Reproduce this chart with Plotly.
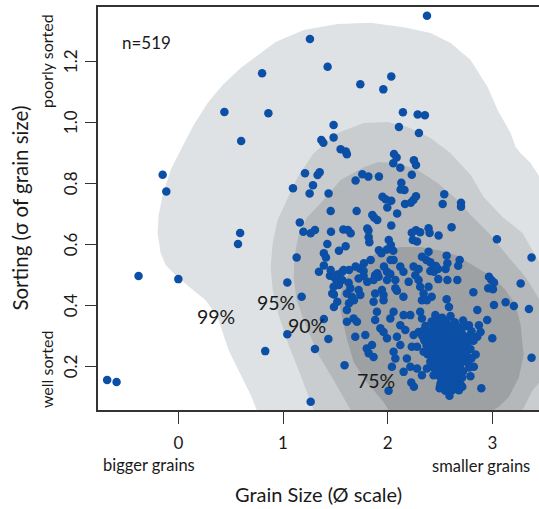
import plotly.graph_objects as go

# ---------------- data ----------------
# density contour outlines (highest-density regions), in data units (Ø, σ)
c99_x = [0.79, 0.748, 0.691, 0.595, 0.480, 0.375, 0.261, 0.117, -0.026, -0.121, -0.169, -0.198, -0.188,
         -0.150, -0.074, 0.022, 0.146, 0.280, 0.423, 0.595, 0.767, 0.929, 1.197, 1.521, 1.836, 2.152,
         2.410, 2.601, 2.792, 2.954, 3.050, 3.174, 3.222, 3.270, 3.365, 3.451, 3.65, 3.65]
c99_y = [-0.10, 0.056, 0.105, 0.170, 0.252, 0.361, 0.416, 0.456, 0.498, 0.531, 0.570, 0.636, 0.695,
         0.761, 0.843, 0.908, 0.990, 1.062, 1.121, 1.177, 1.220, 1.262, 1.302, 1.321, 1.325, 1.311,
         1.292, 1.259, 1.203, 1.115, 1.039, 0.964, 0.918, 0.898, 0.866, 0.820, 0.744, -0.10]

c95_x = [1.33, 1.292, 1.168, 1.054, 0.958, 0.901, 0.882, 0.901, 0.948, 1.025, 1.140, 1.292, 1.521,
         1.770, 1.999, 2.190, 2.410, 2.601, 2.792, 2.916, 3.097, 3.288, 3.384, 3.451, 3.65, 3.65]
c95_y = [-0.10, 0.056, 0.170, 0.269, 0.367, 0.449, 0.525, 0.603, 0.679, 0.734, 0.820, 0.898, 0.964,
         0.997, 1.000, 0.984, 0.948, 0.898, 0.826, 0.754, 0.689, 0.636, 0.580, 0.538, 0.449, -0.10]

c90_x = [1.70, 1.645, 1.483, 1.340, 1.216, 1.130, 1.101, 1.111, 1.149, 1.225, 1.359, 1.550, 1.770,
         1.913, 2.095, 2.286, 2.477, 2.667, 2.792, 2.964, 3.155, 3.317, 3.413, 3.451, 3.60, 3.58,
         3.451, 3.384, 3.288, 3.25]
c90_y = [-0.10, 0.056, 0.154, 0.236, 0.334, 0.416, 0.492, 0.564, 0.630, 0.685, 0.734, 0.810, 0.852,
         0.869, 0.866, 0.843, 0.800, 0.744, 0.695, 0.636, 0.557, 0.492, 0.439, 0.416, 0.318, 0.187,
         0.148, 0.121, 0.056, -0.10]

c75_x = [2.05, 2.008, 1.960, 1.798, 1.674, 1.607, 1.569, 1.540, 1.550, 1.607, 1.741, 1.894, 2.123,
         2.314, 2.486, 2.649, 2.840, 3.002, 3.126, 3.222, 3.270, 3.298, 3.251, 3.155, 3.059, 3.011, 2.98]
c75_y = [-0.10, 0.056, 0.082, 0.148, 0.213, 0.292, 0.351, 0.400, 0.439, 0.492, 0.538, 0.570, 0.590,
         0.590, 0.580, 0.564, 0.525, 0.492, 0.449, 0.400, 0.334, 0.236, 0.161, 0.098, 0.066, 0.056, -0.10]

contour_levels = ["99%", "95%", "90%", "75%"]
contour_label_x = [0.356, 0.929, 1.225, 1.884]
contour_label_y = [0.361, 0.410, 0.334, 0.154]

# samples: (grain size Ø, sorting σ)
outer_pts = [(-0.68, 0.154), (-0.59, 0.148), (-0.38, 0.495), (0.00, 0.485), (0.83, 0.249),
             (-0.15, 0.827), (-0.115, 0.772), (0.44, 1.033), (0.80, 1.16), (0.86, 1.029),
             (0.60, 0.938), (0.59, 0.636), (0.57, 0.60), (2.375, 1.348), (1.257, 1.272),
             (1.426, 1.181), (1.738, 1.124), (2.034, 1.149), (1.958, 1.107), (2.145, 1.032),
             (2.286, 1.025), (2.355, 1.022), (2.107, 0.984), (2.298, 0.964), (1.264, 0.083),
             (3.043, 0.616), (3.374, 0.556), (3.374, 0.227), (1.041, 0.474), (1.041, 0.304),
             (1.13, 0.556)]

upper_pts = [(1.483, 0.990), (1.483, 0.949), (1.366, 0.941), (1.385, 0.932), (1.55, 0.911),
             (1.60, 0.903), (1.61, 0.894), (2.06, 0.895), (2.085, 0.884), (2.053, 0.865),
             (2.12, 0.850), (2.25, 0.875), (2.27, 0.859), (2.23, 0.827), (1.21, 0.832),
             (1.33, 0.826), (1.35, 0.835), (1.286, 0.793), (1.254, 0.766), (1.095, 0.783),
             (1.435, 0.766), (1.757, 0.829), (1.815, 0.821), (1.693, 0.808), (1.916, 0.821),
             (2.13, 0.801), (2.123, 0.779), (2.16, 0.777), (1.95, 0.755), (1.98, 0.747),
             (2.034, 0.742), (1.996, 0.72), (2.27, 0.757), (2.245, 0.744), (2.22, 0.735),
             (2.165, 0.731), (2.09, 0.70), (2.54, 0.763), (2.525, 0.731), (2.70, 0.735),
             (2.70, 0.722), (1.455, 0.708), (1.703, 0.708), (1.853, 0.695), (1.87, 0.687),
             (1.90, 0.679)]

mid_pts = [(1.16, 0.671), (1.194, 0.640), (1.264, 0.635), (1.305, 0.646), (1.458, 0.640),
           (1.576, 0.648), (1.62, 0.646), (1.646, 0.635), (1.805, 0.651), (1.816, 0.644),
           (2.034, 0.661), (1.818, 0.622), (1.824, 0.606), (1.423, 0.60), (1.534, 0.578),
           (1.598, 0.593), (1.39, 0.57), (1.41, 0.556), (2.01, 0.613), (2.03, 0.597),
           (1.993, 0.582), (2.053, 0.578), (2.23, 0.637), (2.27, 0.645), (2.31, 0.639),
           (2.39, 0.652), (2.40, 0.636), (2.24, 0.613), (2.28, 0.608), (2.486, 0.628),
           (2.61, 0.655), (1.916, 0.58), (1.94, 0.57), (2.39, 0.575), (2.327, 0.558),
           (2.37, 0.548), (2.563, 0.562), (2.687, 0.548), (2.673, 0.529), (2.57, 0.537),
           (2.056, 0.548), (1.837, 0.548), (1.773, 0.537), (2.028, 0.548)]

midlow_pts = [(1.39, 0.53), (1.343, 0.509), (1.448, 0.496), (1.455, 0.515), (1.52, 0.50),
              (1.566, 0.509), (1.486, 0.493), (1.486, 0.435), (1.178, 0.427), (1.579, 0.515),
              (1.63, 0.515), (1.693, 0.526), (1.732, 0.52), (1.77, 0.512), (1.722, 0.487),
              (1.77, 0.495), (1.805, 0.476), (1.88, 0.498), (1.913, 0.493), (1.865, 0.482),
              (1.9, 0.504), (1.964, 0.526), (1.993, 0.509), (2.025, 0.502), (1.993, 0.482),
              (2.12, 0.526), (2.15, 0.509), (2.073, 0.482), (1.50, 0.487), (1.515, 0.476),
              (1.483, 0.46), (1.534, 0.466), (1.566, 0.482), (1.47, 0.438), (1.627, 0.473),
              (1.643, 0.455), (1.61, 0.438), (1.658, 0.427), (1.677, 0.416), (1.63, 0.406),
              (1.722, 0.449), (1.738, 0.433), (1.88, 0.438), (1.96, 0.433), (1.945, 0.449),
              (1.96, 0.416), (1.865, 0.411), (2.073, 0.455), (2.088, 0.447), (2.15, 0.427),
              (2.2, 0.476), (2.247, 0.526), (2.295, 0.518), (2.264, 0.498), (2.295, 0.482),
              (2.31, 0.46), (2.343, 0.438), (2.39, 0.46), (2.42, 0.427), (2.327, 0.416),
              (2.374, 0.416), (2.407, 0.54), (2.44, 0.526), (2.407, 0.512), (2.44, 0.509),
              (2.553, 0.518), (2.48, 0.518), (2.46, 0.528), (2.483, 0.485), (2.57, 0.482),
              (2.665, 0.482), (2.967, 0.493), (2.99, 0.482), (3.015, 0.474), (2.96, 0.455),
              (3.005, 0.452), (2.818, 0.442), (3.27, 0.471), (2.563, 0.419), (3.015, 0.40),
              (3.126, 0.409), (3.205, 0.397)]

low_pts = [(1.39, 0.354), (1.433, 0.289), (1.305, 0.256), (1.486, 0.394), (1.518, 0.411),
           (1.588, 0.203), (2.008, 0.119), (2.225, 0.146), (2.25, 0.132),
           (1.61, 0.384), (1.61, 0.345), (1.674, 0.356), (1.706, 0.345), (1.69, 0.296),
           (1.786, 0.302), (1.80, 0.258), (1.85, 0.269), (1.818, 0.242), (1.865, 0.23),
           (1.897, 0.378), (1.88, 0.351), (1.93, 0.324), (1.96, 0.312), (1.993, 0.291),
           (2.025, 0.356), (2.056, 0.378), (2.12, 0.334), (2.152, 0.367), (2.216, 0.367),
           (2.31, 0.378), (2.327, 0.356), (2.168, 0.318), (2.247, 0.302), (2.295, 0.312),
           (2.28, 0.263), (2.23, 0.263), (2.12, 0.269), (2.056, 0.247), (2.073, 0.225),
           (2.183, 0.225), (2.216, 0.198), (2.28, 0.192), (2.374, 0.192), (2.407, 0.214),
           (2.343, 0.247), (2.407, 0.269), (2.438, 0.334), (2.455, 0.367), (2.088, 0.296),
           (2.04, 0.198), (2.152, 0.181), (2.327, 0.17), (2.438, 0.17),
           (2.585, 0.394), (2.856, 0.384), (3.349, 0.387), (2.776, 0.334), (2.871, 0.334),
           (2.95, 0.351), (2.999, 0.291), (2.79, 0.291), (2.856, 0.296), (2.887, 0.312),
           (2.823, 0.198), (2.79, 0.167), (2.696, 0.138), (2.68, 0.121), (2.59, 0.103),
           (2.894, 0.127), (2.505, 0.143), (2.496, 0.127), (2.712, 0.132), (2.648, 0.143)]

blob_pts = [(2.46, 0.362), (2.52, 0.358), (2.60, 0.364),
            (2.42, 0.346), (2.50, 0.343), (2.56, 0.348), (2.64, 0.344), (2.72, 0.349),
            (2.36, 0.331), (2.44, 0.328), (2.49, 0.333), (2.55, 0.329), (2.61, 0.332), (2.68, 0.327), (2.75, 0.331),
            (2.34, 0.316), (2.40, 0.313), (2.47, 0.317), (2.53, 0.314), (2.58, 0.318), (2.64, 0.312), (2.70, 0.316), (2.80, 0.314),
            (2.33, 0.299), (2.38, 0.302), (2.45, 0.298), (2.50, 0.301), (2.55, 0.297), (2.60, 0.303), (2.66, 0.299), (2.72, 0.302), (2.78, 0.298),
            (2.35, 0.284), (2.41, 0.287), (2.47, 0.283), (2.52, 0.286), (2.57, 0.282), (2.63, 0.288), (2.68, 0.284), (2.74, 0.286), (2.82, 0.283),
            (2.37, 0.269), (2.43, 0.272), (2.48, 0.268), (2.54, 0.271), (2.59, 0.267), (2.64, 0.273), (2.70, 0.269), (2.76, 0.271),
            (2.40, 0.254), (2.45, 0.257), (2.51, 0.253), (2.56, 0.256), (2.61, 0.252), (2.67, 0.258), (2.72, 0.254), (2.79, 0.256),
            (2.38, 0.239), (2.44, 0.242), (2.49, 0.238), (2.54, 0.241), (2.59, 0.237), (2.64, 0.243), (2.70, 0.239), (2.75, 0.241), (2.84, 0.238),
            (2.42, 0.224), (2.47, 0.227), (2.52, 0.223), (2.57, 0.226), (2.62, 0.222), (2.68, 0.228), (2.73, 0.224), (2.80, 0.226),
            (2.45, 0.209), (2.50, 0.212), (2.55, 0.208), (2.60, 0.211), (2.65, 0.207), (2.71, 0.213), (2.77, 0.209),
            (2.44, 0.194), (2.49, 0.197), (2.54, 0.193), (2.59, 0.196), (2.64, 0.192), (2.69, 0.198), (2.78, 0.195),
            (2.47, 0.179), (2.52, 0.182), (2.57, 0.178), (2.62, 0.181), (2.67, 0.177), (2.72, 0.183),
            (2.50, 0.164), (2.55, 0.167), (2.60, 0.163), (2.65, 0.166), (2.71, 0.162),
            (2.52, 0.149), (2.58, 0.152), (2.63, 0.148), (2.68, 0.151),
            (2.50, 0.134), (2.56, 0.137), (2.62, 0.133), (2.70, 0.136),
            (2.55, 0.119), (2.62, 0.122)]

x_ticks = [0, 1, 2, 3]
y_ticks = [0.2, 0.4, 0.6, 0.8, 1.0, 1.2]
y_tick_text = ["0.2", "0.4", "0.6", "0.8", "1.0", "1.2"]
n_label = "n=519"
x_title = "Grain Size (Ø scale)"
y_title = "Sorting (σ of grain size)"

# ---------------- figure ----------------
FONT = "Lato, 'Open Sans', sans-serif"
TXT = "#1a1a1a"
fill_colors = ["#dfe2e4", "#c9cdd0", "#b4b8bb", "#9da1a4"]
contours = [(c99_x, c99_y), (c95_x, c95_y), (c90_x, c90_y), (c75_x, c75_y)]

fig = go.Figure()
for (cx, cy), col in zip(contours, fill_colors):
    fig.add_trace(go.Scatter(x=cx, y=cy, mode="lines", fill="toself", fillcolor=col,
                             line=dict(width=0, color=col), hoverinfo="skip", showlegend=False))

all_pts = outer_pts + upper_pts + mid_pts + midlow_pts + low_pts + blob_pts
px = [p[0] for p in all_pts]
py = [p[1] for p in all_pts]
fig.add_trace(go.Scatter(x=px, y=py, mode="markers",
                         marker=dict(color="#0c4fa6", size=8.5, line=dict(width=0)),
                         showlegend=False))


def note(text, x, y, xref, yref, size, angle=0, xanchor="center"):
    return dict(x=x, y=y, xref=xref, yref=yref, text=text, showarrow=False,
                textangle=angle, xanchor=xanchor, yanchor="middle",
                font=dict(size=size, color=TXT, family=FONT))


annotations = []
for lab, lx, ly in zip(contour_levels, contour_label_x, contour_label_y):
    annotations.append(note(lab, lx, ly, "x", "y", 19.5))
# rotated y tick labels (R style)
for tv, tt in zip(y_ticks, y_tick_text):
    annotations.append(note(tt, -0.063, tv, "paper", "y", 17, angle=-90))
annotations += [
    note(n_label, -0.56, 1.262, "x", "y", 17, xanchor="left"),
    note("bigger grains", -0.284, -0.136, "x", "paper", 16.5),
    note("smaller grains", 2.89, -0.139, "x", "paper", 16.5),
    note("poorly sorted", -0.118, 1.20, "paper", "y", 16, angle=-90),
    note("well sorted", -0.118, 0.19, "paper", "y", 16, angle=-90),
    note(y_title, -0.179, 0.5, "paper", "paper", 20.5, angle=-90),
]

fig.update_layout(
    width=539, height=509,
    margin=dict(l=98, r=0, t=7, b=99),
    paper_bgcolor="white", plot_bgcolor="white",
    font=dict(family=FONT, color=TXT),
    annotations=annotations,
    xaxis=dict(range=[-0.7675, 3.445], tickvals=x_ticks, ticks="outside", ticklen=12,
               tickwidth=1.3, tickcolor="#333", showline=True, linecolor="#333", linewidth=1.5,
               mirror=True, showgrid=False, zeroline=False, tickfont=dict(size=17),
               ticklabelstandoff=5, automargin=False,
               title=dict(text=x_title, font=dict(size=20), standoff=36)),
    yaxis=dict(range=[0.056, 1.377], tickvals=y_ticks, showticklabels=False,
               ticks="outside", ticklen=11, tickwidth=1.3, tickcolor="#333", showline=True,
               linecolor="#333", linewidth=1.5, showgrid=False, zeroline=False,
               automargin=False),
)

fig.write_html("out.html", config={"displayModeBar": False},
               post_script="document.body.style.margin='0';document.body.style.overflow='hidden';")
